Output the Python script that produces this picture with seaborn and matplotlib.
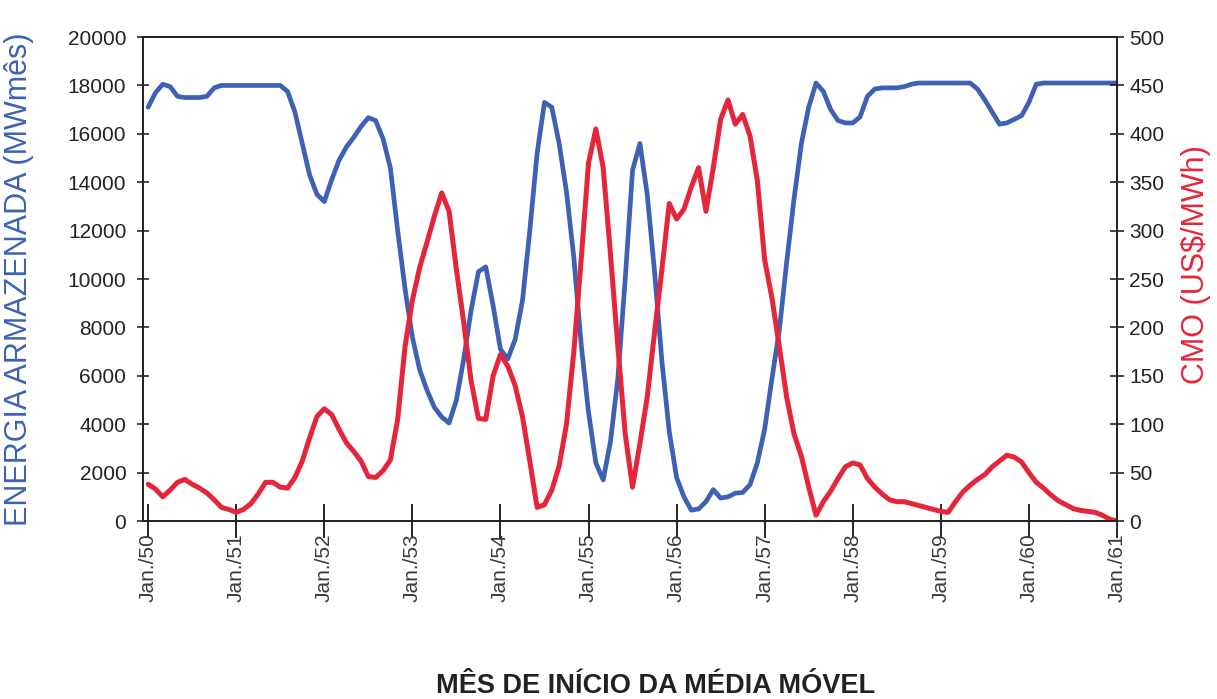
import numpy as np
import pandas as pd
import seaborn as sns
import matplotlib.pyplot as plt

# Monthly moving-average start, Jan/50 .. Jan/61
meses = np.arange(133)

energia = [
    17100, 17700, 18050, 17950, 17550, 17500, 17500, 17500, 17550, 17900,
    18000, 18000, 18000, 18000, 18000, 18000, 18000, 18000, 18000, 17750,
    16900, 15600, 14300, 13500, 13200, 14100, 14900, 15450, 15850, 16300,
    16670, 16550, 15800, 14600, 12000, 9600, 7600, 6250, 5400, 4700,
    4300, 4050, 5000, 6700, 8700, 10300, 10500, 8900, 7100, 6700,
    7500, 9100, 12000, 15200, 17300, 17100, 15600, 13600, 10900, 7300,
    4500, 2400, 1700, 3300, 5900, 10000, 14500, 15600, 13500, 10300,
    6600, 3700, 1800, 1000, 450, 500, 800, 1300, 950, 1000,
    1150, 1180, 1500, 2400, 3800, 5900, 7900, 10700, 13300, 15600,
    17100, 18100, 17750, 17000, 16550, 16450, 16450, 16700, 17550, 17850,
    17900, 17900, 17900, 17950, 18050, 18100, 18100, 18100, 18100, 18100,
    18100, 18100, 18100, 17850, 17400, 16900, 16400, 16450, 16600, 16750,
    17300, 18050, 18100, 18100, 18100, 18100, 18100, 18100, 18100, 18100,
    18100, 18100, 18100,
]

cmo = [
    38, 33, 25, 32, 40, 43, 38, 34, 29, 22,
    14, 12, 9, 12, 18, 28, 40, 40, 35, 34,
    45, 62, 86, 108, 116, 110, 95, 81, 72, 62,
    46, 45, 52, 63, 105, 180, 228, 262, 288, 315,
    339, 320, 260, 205, 145, 106, 105, 150, 172, 160,
    140, 108, 62, 14, 17, 32, 57, 100, 175, 270,
    370, 405, 365, 275, 180, 90, 35, 80, 128, 195,
    260, 328, 312, 322, 345, 365, 320, 365, 415, 435,
    410, 420, 398, 352, 270, 230, 180, 128, 90, 67,
    35, 6, 20, 31, 44, 56, 60, 58, 44, 35,
    28, 22, 20, 20, 18, 16, 14, 12, 10, 9,
    20, 30, 37, 43, 48, 56, 62, 68, 66, 61,
    50, 40, 34, 27, 21, 17, 13, 11, 10, 9,
    6, 2, 0,
]

rotulos = ['Jan./50', 'Jan./51', 'Jan./52', 'Jan./53', 'Jan./54', 'Jan./55',
           'Jan./56', 'Jan./57', 'Jan./58', 'Jan./59', 'Jan./60', 'Jan./61']

df = pd.DataFrame({'mes': meses, 'energia': energia, 'cmo': cmo})

azul = '#3d62b3'
vermelho = '#e5263a'

sns.set_style('ticks')
plt.rcParams['font.family'] = ['Liberation Sans', 'DejaVu Sans']

fig = plt.figure(figsize=(12.17, 6.99), dpi=100)
ax = fig.add_axes([0.1175, 0.2546, 0.8003, 0.6924])

sns.lineplot(data=df, x='mes', y='energia', ax=ax, color=azul, lw=3.4)
ax2 = ax.twinx()
sns.lineplot(data=df, x='mes', y='cmo', ax=ax2, color=vermelho, lw=3.6)

ax.set_xlim(-0.7, 132)
ax.set_ylim(0, 20000)
ax2.set_ylim(0, 500)
ax.set_yticks(np.arange(0, 20001, 2000))
ax2.set_yticks(np.arange(0, 501, 50))
ax.set_xticks(np.arange(0, 133, 12))
ax.set_xticklabels(rotulos, rotation=90, fontsize=15, color='#3a3a3a')

ax.tick_params(axis='y', direction='inout', length=8, width=1.2, labelsize=15,
               pad=8, labelcolor='#222222')
ax2.tick_params(axis='y', direction='inout', length=10, width=1.2, labelsize=15,
                pad=4, labelcolor='#222222')
ax.tick_params(axis='x', direction='inout', length=24, width=1.4, pad=-3)

for a in (ax, ax2):
    for s in a.spines.values():
        s.set_visible(True)
        s.set_color('#222222')
        s.set_linewidth(1.3)

ax.set_ylabel('ENERGIA ARMAZENADA (MWmês)', color=azul, fontsize=22)
ax.yaxis.set_label_coords(-0.112, 0.5)
ax2.set_ylabel('CMO (US$/MWh)', color=vermelho, fontsize=22)
ax2.yaxis.set_label_coords(1.066, 0.53)
ax.set_xlabel('MÊS DE INÍCIO DA MÉDIA MÓVEL', fontsize=19.5, fontweight='bold',
              color='#222222')
ax.xaxis.set_label_coords(0.526, -0.314)

fig.savefig('out.png', dpi=100)
